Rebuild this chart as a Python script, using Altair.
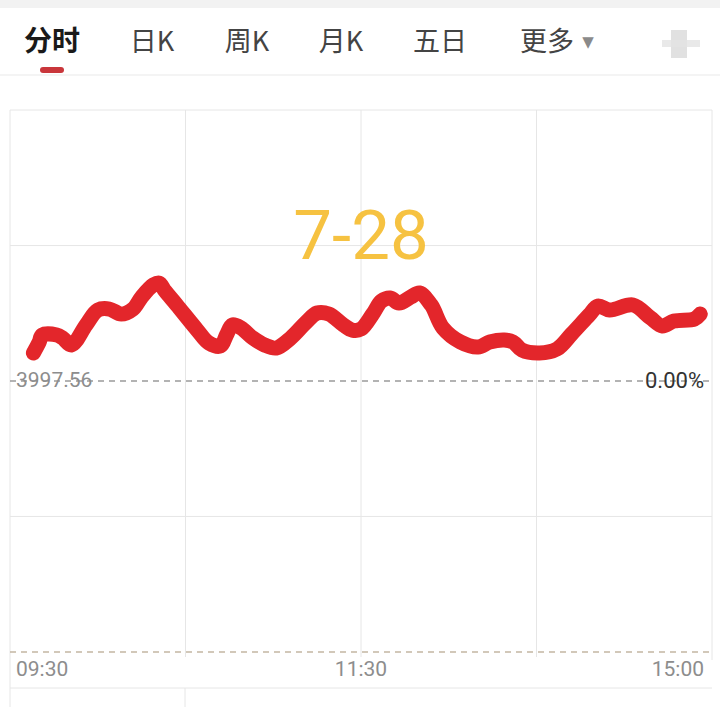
import altair as alt
import pandas as pd

# ---- data ----
minutes = [8, 10, 11, 16, 18, 21, 26, 30, 34, 38, 42, 45, 49, 51, 53, 57, 64, 68, 72, 74,
           76, 79, 83, 87, 91, 96, 101, 105, 109, 114, 117, 120, 124, 127, 130, 133, 137, 140,
           144, 148, 154, 160, 164, 169, 172, 175, 181, 187, 192, 198, 201, 205, 213, 219,
           223, 227, 234, 236]
prices = [4000.04, 4001.01, 4001.63, 4001.63, 4001.37, 4000.75, 4002.52, 4003.84, 4003.93,
          4003.49, 4003.93, 4004.99, 4006.06, 4006.23, 4005.53, 4004.29, 4002.07, 4000.92,
          4000.66, 4001.63, 4002.52, 4002.25, 4001.37, 4000.75, 4000.48, 4001.37, 4002.69,
          4003.58, 4003.49, 4002.52, 4002.07, 4002.16, 4003.49, 4004.64, 4004.91, 4004.46,
          4004.99, 4005.35, 4004.29, 4002.25, 4001.01, 4000.57, 4001.01, 4001.19, 4001.01,
          4000.30, 4000.04, 4000.39, 4001.72, 4003.40, 4004.20, 4003.84, 4004.29, 4003.14,
          4002.43, 4002.87, 4003.05, 4003.49]
base_price = 3997.56
grid_minutes = [60, 120, 180]
grid_prices = [3985.57, 4009.55]
top_price = 4021.55
bottom_price = 3973.57
tabs = ["分时", "日K", "周K", "月K", "五日", "更多"]
time_labels = ["09:30", "11:30", "15:00"]
date_label = "7-28"

W, H = 720, 707
xs = alt.Scale(domain=[0, 240], range=[10, 712], nice=False, zero=False)
ys = alt.Scale(domain=[bottom_price, top_price], range=[652, 110], nice=False, zero=False)

line_df = pd.DataFrame({"m": minutes, "price": prices})

def txt(text, x, y, size, color, align="center", weight="normal", font="Roboto", baseline="middle"):
    return alt.Chart(pd.DataFrame({"t": [text]})).mark_text(
        fontSize=size, color=color, align=align, baseline=baseline,
        fontWeight=weight, font=font
    ).encode(x=alt.value(x), y=alt.value(y), text="t:N")

def hrule(x1, x2, y, color, width=1, dash=None, cap="butt"):
    kw = dict(color=color, strokeWidth=width, strokeCap=cap)
    if dash:
        kw["strokeDash"] = dash
    return alt.Chart(pd.DataFrame({"a": [0]})).mark_rule(**kw).encode(
        x=alt.value(x1), x2=alt.value(x2), y=alt.value(y))

def vrule(x, y1, y2, color, width=1):
    return alt.Chart(pd.DataFrame({"a": [0]})).mark_rule(color=color, strokeWidth=width).encode(
        x=alt.value(x), y=alt.value(y1), y2=alt.value(y2))

layers = []

# top band
layers.append(alt.Chart(pd.DataFrame({"a": [0]})).mark_rect(color="#f2f2f2").encode(
    x=alt.value(0), x2=alt.value(W), y=alt.value(0), y2=alt.value(8)))

# tabs
tab_x = [52, 152, 247, 341, 440, 547]
for i, (t, x) in enumerate(zip(tabs, tab_x)):
    if i == 0:
        layers.append(txt(t, x, 43, 28, "#1a1a1a", weight="bold", font="Noto Sans CJK SC"))
    else:
        layers.append(txt(t, x, 43, 27, "#444444", font="Noto Sans CJK SC"))
layers.append(txt("▼", 588, 42, 15, "#8a8a8a", font="DejaVu Sans"))
# blurred icon at right
layers.append(alt.Chart(pd.DataFrame({"a": [0]})).mark_rect(color="#d9d9d9", opacity=0.8).encode(
    x=alt.value(671), x2=alt.value(687), y=alt.value(30), y2=alt.value(58)))
layers.append(alt.Chart(pd.DataFrame({"a": [0]})).mark_rect(color="#e4e4e4", opacity=0.8).encode(
    x=alt.value(662), x2=alt.value(700), y=alt.value(40), y2=alt.value(47)))

# red underline of active tab
layers.append(hrule(43, 61, 70, "#c9363b", width=6, cap="round"))
# separator
layers.append(hrule(0, W, 75, "#e9e9e9"))

# plot frame
layers.append(hrule(10, 712, 110, "#e6e6e6"))
layers.append(vrule(10, 110, 707, "#e6e6e6"))
layers.append(vrule(712, 110, 660, "#e6e6e6"))
layers.append(hrule(10, 712, 688, "#e6e6e6"))

# grid lines
layers.append(alt.Chart(pd.DataFrame({"m": grid_minutes})).mark_rule(color="#e6e6e6", strokeWidth=1).encode(
    x=alt.X("m:Q", scale=xs, axis=None), y=alt.value(110), y2=alt.value(657)))
layers.append(vrule(185, 688, 707, "#e6e6e6"))
layers.append(alt.Chart(pd.DataFrame({"price": grid_prices})).mark_rule(color="#e6e6e6", strokeWidth=1).encode(
    y=alt.Y("price:Q", scale=ys, axis=None), x=alt.value(10), x2=alt.value(712)))

# zero (base) line and bottom line
layers.append(alt.Chart(pd.DataFrame({"price": [base_price]})).mark_rule(
    color="#9a9a9a", strokeWidth=1.3, strokeDash=[6, 5]).encode(
    y=alt.Y("price:Q", scale=ys, axis=None), x=alt.value(10), x2=alt.value(712)))
layers.append(alt.Chart(pd.DataFrame({"price": [bottom_price]})).mark_rule(
    color="#c4b7a2", strokeWidth=1.3, strokeDash=[6, 5]).encode(
    y=alt.Y("price:Q", scale=ys, axis=None), x=alt.value(10), x2=alt.value(712)))

# date label
layers.append(txt(date_label, 361, 238, 69, "#f6c241", font="Roboto"))

# price line
layers.append(alt.Chart(line_df).mark_line(
    color="#e3262b", strokeWidth=15, strokeCap="round", strokeJoin="round", interpolate="catmull-rom"
).encode(x=alt.X("m:Q", scale=xs, axis=None), y=alt.Y("price:Q", scale=ys, axis=None)))

# axis labels
layers.append(txt("3997.56", 16, 381, 21, "#8d8d8d", align="left"))
layers.append(txt("0.00%", 704, 381, 22, "#333333", align="right"))
layers.append(txt(time_labels[0], 16, 670, 21, "#8d8d8d", align="left"))
layers.append(txt(time_labels[1], 361, 670, 21, "#8d8d8d", align="center"))
layers.append(txt(time_labels[2], 704, 670, 21, "#8d8d8d", align="right"))

chart = alt.layer(*layers).properties(
    width=W, height=H, padding=0, autosize=alt.AutoSizeParams(type="none"), background="white"
).configure_view(stroke=None)

chart.save("out.html", embed_options={"renderer": "svg", "actions": False})
